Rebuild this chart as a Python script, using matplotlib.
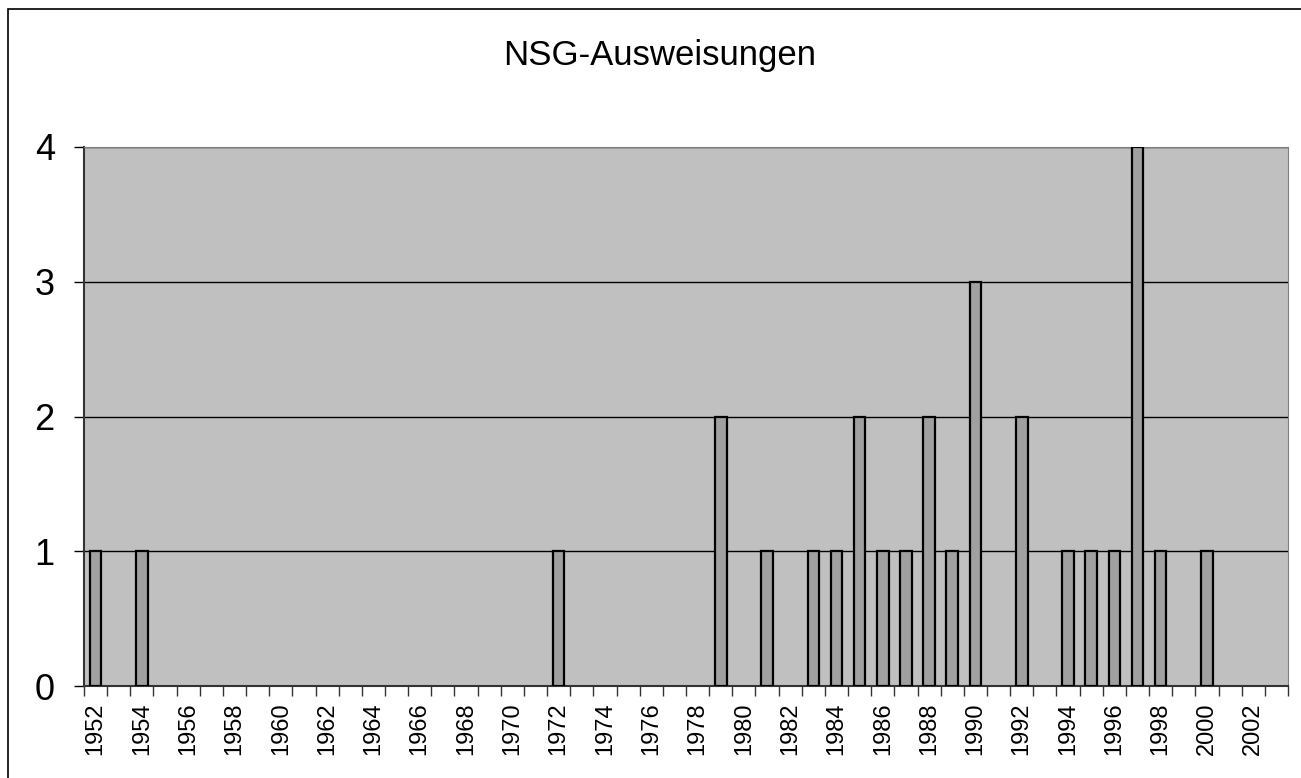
import numpy as np
import matplotlib
matplotlib.use('Agg')
import matplotlib.pyplot as plt
from matplotlib.patches import Rectangle

plt.rcParams['font.family'] = ['Liberation Sans', 'DejaVu Sans']

years = list(range(1952, 2004))
counts_by_year = {1952: 1, 1954: 1, 1972: 1, 1979: 2, 1981: 1, 1983: 1, 1984: 1,
                  1985: 2, 1986: 1, 1987: 1, 1988: 2, 1989: 1, 1990: 3, 1992: 2,
                  1994: 1, 1995: 1, 1996: 1, 1997: 4, 1998: 1, 2000: 1}
counts = [counts_by_year.get(y, 0) for y in years]
title = 'NSG-Ausweisungen'

W, H = 1301, 778
fig = plt.figure(figsize=(W / 100, H / 100), dpi=100)
# plot area in pixels: left 84, right 1288, top 147, bottom 686
ax = fig.add_axes([84 / W, 1 - 686 / H, (1288 - 84) / W, (686 - 147) / H])

# outer chart border (cut off at right/bottom)
fig.patches.append(Rectangle((8 / W, -0.1), 1.2, 1 - 9 / H + 0.1, transform=fig.transFigure,
                             fill=False, edgecolor='black', linewidth=1.2))

x = np.arange(len(years))
c = np.array(counts)
nz = c > 0
ax.set_facecolor('#c0c0c0')
ax.bar(x[nz], c[nz], width=0.5, color='#a0a0a0', edgecolor='black', linewidth=1.6, zorder=3)

ax.set_xlim(-0.5, len(years) - 0.5)
ax.set_ylim(0, 4)
ax.set_yticks([0, 1, 2, 3, 4])
ax.yaxis.grid(True, color='black', linewidth=1)
ax.set_axisbelow(True)

ax.set_xticks(np.arange(-0.5, len(years), 1))
ax.set_xticklabels([])
ax.set_xticks(x[::2], minor=True)
ax.set_xticklabels([str(y) for y in years[::2]], minor=True, rotation=90, fontsize=17)
ax.tick_params(axis='x', which='major', length=7, width=1, direction='out', color='#333333')
ax.tick_params(axis='x', which='minor', length=0, pad=12)
ax.tick_params(axis='y', length=7, width=1, labelsize=26, pad=14)

for s in ['left', 'bottom']:
    ax.spines[s].set_color('#333333')
    ax.spines[s].set_linewidth(1.5)
ax.spines['right'].set_color('#808080')
ax.spines['top'].set_color('#808080')

fig.text(660 / W, 1 - 56 / H, title, ha='center', va='center', fontsize=25)

fig.savefig('out.png', dpi=100)
